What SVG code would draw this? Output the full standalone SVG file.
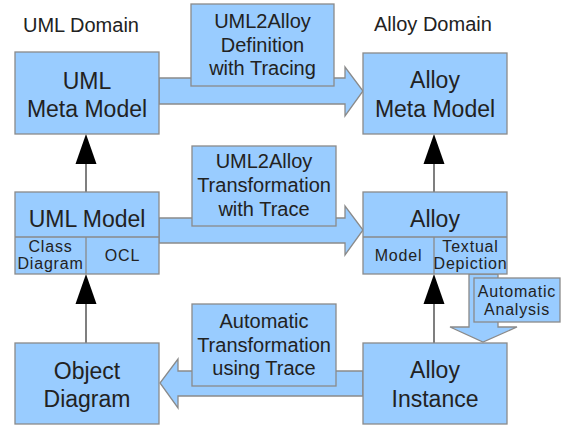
<svg xmlns="http://www.w3.org/2000/svg" width="564" height="431" viewBox="0 0 564 431">
<style>
.box{fill:#99ccff;stroke:#8a8a8a;stroke-width:1.3}
.blk{fill:#99ccff;stroke:#8a8a8a;stroke-width:1.3;stroke-linejoin:miter}
.ln{stroke:#555;stroke-width:1.5;fill:none}
.hd{fill:#000}
text{font-family:"Liberation Sans",Arial,sans-serif;fill:#222;text-anchor:middle}
.dom{font-size:20px;text-anchor:start}
.big{font-size:23px}
.mid{font-size:20px}
.sm{font-size:16px;letter-spacing:0.8px}
</style>
<text class="dom" x="23" y="32">UML Domain</text>
<text class="dom" x="374" y="31">Alloy Domain</text>
<g id="connectors">
<polygon class="blk" points="159,78 345,78 345,67 363,91 345,116 345,104 159,104"/>
<polygon class="blk" points="159,218 345,218 345,206 363,230 345,255 345,243 159,243"/>
<polygon class="blk" points="363,371 178,371 178,359 160,383 178,408 178,396 363,396"/>
<polygon class="blk" points="469,274 498,274 498,327 517,327 483,342 450,327 469,327"/>
<line class="ln" x1="86" y1="192" x2="86" y2="150"/>
<polygon class="hd" points="86,134 96.5,164 75.5,164"/>
<line class="ln" x1="86" y1="343" x2="86" y2="290"/>
<polygon class="hd" points="86,274 96.5,304 75.5,304"/>
<line class="ln" x1="434" y1="192" x2="434" y2="150"/>
<polygon class="hd" points="434,134 444.5,164 423.5,164"/>
<line class="ln" x1="434" y1="343" x2="434" y2="290"/>
<polygon class="hd" points="434,274 444.5,304 423.5,304"/>
</g>
<g id="uml-meta-model">
<rect class="box" x="15" y="52" width="144" height="82"/>
<text class="big" x="87" y="89">UML</text>
<text class="big" x="87" y="117">Meta Model</text>
</g>
<g id="alloy-meta-model">
<rect class="box" x="363" y="53" width="144" height="81"/>
<text class="big" x="435" y="88">Alloy</text>
<text class="big" x="435" y="117">Meta Model</text>
</g>
<g id="uml2alloy-definition">
<rect class="box" x="191" y="4" width="143" height="82"/>
<text class="mid" x="262.5" y="28">UML2Alloy</text>
<text class="mid" x="262.5" y="52">Definition</text>
<text class="mid" x="262.5" y="75">with Tracing</text>
</g>
<g id="uml-model">
<rect class="box" x="15" y="192" width="144" height="82"/>
<line class="box" x1="15" y1="237" x2="159" y2="237"/>
<line class="box" x1="86" y1="237" x2="86" y2="274"/>
<text class="big" x="87" y="227">UML Model</text>
<text class="sm" x="50.5" y="252">Class</text>
<text class="sm" x="50.5" y="269">Diagram</text>
<text class="sm" x="122.5" y="261">OCL</text>
</g>
<g id="alloy">
<rect class="box" x="363" y="192" width="144" height="82"/>
<line class="box" x1="363" y1="237" x2="507" y2="237"/>
<line class="box" x1="434" y1="237" x2="434" y2="274"/>
<text class="big" x="435" y="227">Alloy</text>
<text class="sm" x="398.5" y="261">Model</text>
<text class="sm" x="470.5" y="252">Textual</text>
<text class="sm" x="470.5" y="269">Depiction</text>
</g>
<g id="uml2alloy-transformation">
<rect class="box" x="192" y="146" width="144" height="80"/>
<text class="mid" x="264" y="168">UML2Alloy</text>
<text class="mid" x="264" y="192">Transformation</text>
<text class="mid" x="264" y="216">with Trace</text>
</g>
<g id="object-diagram">
<rect class="box" x="15" y="343" width="144" height="81"/>
<text class="big" x="87" y="379">Object</text>
<text class="big" x="87" y="407">Diagram</text>
</g>
<g id="alloy-instance">
<rect class="box" x="363" y="343" width="144" height="81"/>
<text class="big" x="435" y="378">Alloy</text>
<text class="big" x="435" y="407">Instance</text>
</g>
<g id="automatic-transformation">
<rect class="box" x="192" y="304" width="144" height="82"/>
<text class="mid" x="264" y="328">Automatic</text>
<text class="mid" x="264" y="352">Transformation</text>
<text class="mid" x="264" y="375">using Trace</text>
</g>
<g id="automatic-analysis">
<rect class="box" x="474" y="278" width="86" height="44"/>
<text class="sm" x="517" y="297">Automatic</text>
<text class="sm" x="517" y="315">Analysis</text>
</g>
</svg>
